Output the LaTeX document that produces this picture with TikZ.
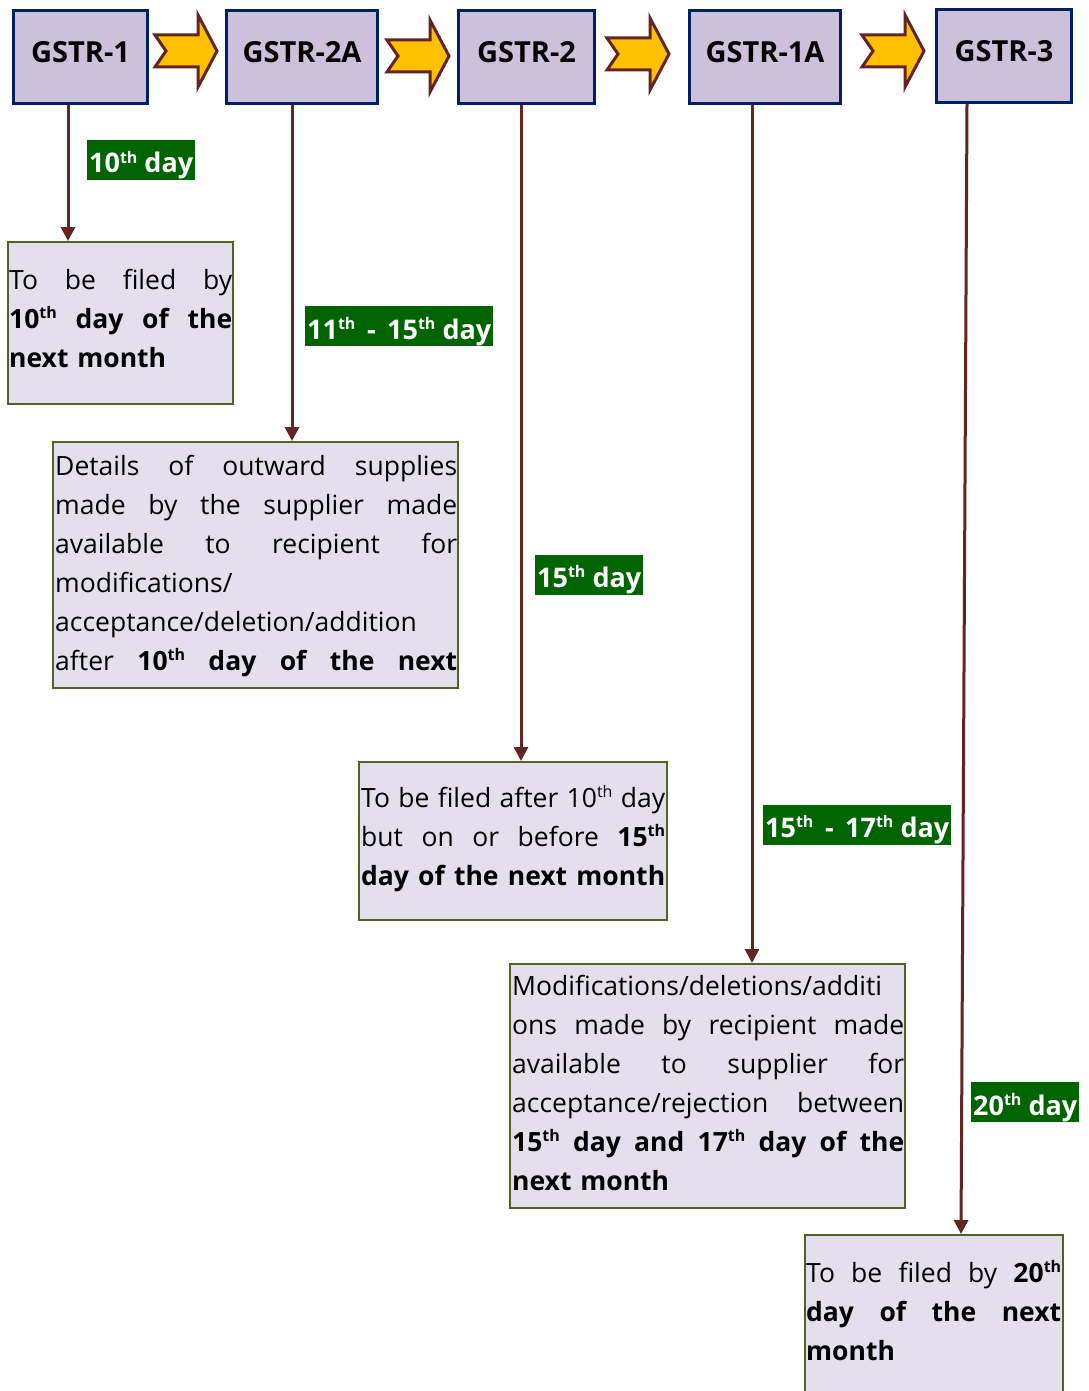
\documentclass[tikz,border=0pt]{standalone}
\usepackage{fontspec}
\setmainfont{Open Sans}
\usetikzlibrary{arrows.meta,calc}

\definecolor{hdrfill}{HTML}{CCC0DA}
\definecolor{hdrline}{HTML}{002060}
\definecolor{notefill}{HTML}{E4DFEC}
\definecolor{noteline}{HTML}{4F6228}
\definecolor{linkred}{HTML}{632523}
\definecolor{flowgold}{HTML}{FFC000}
\definecolor{daygreen}{HTML}{006400}

\newlength{\jw}
\newcommand{\supth}{\raisebox{0.37em}{\fontsize{16}{16}\selectfont th}}
\newcommand{\jl}[1]{\leavevmode\hbox to \jw{\spaceskip=0.25em plus 1fil\relax #1}}

\begin{document}
\begin{tikzpicture}[x=1pt, y=-1pt,
    form/.style={draw=hdrline, line width=3pt, fill=hdrfill, inner sep=0pt,
      text height=52.5pt, text depth=40.5pt, font=\fontsize{29}{35}\selectfont\bfseries},
    note/.style={draw=noteline, line width=2pt, fill=notefill, anchor=north west, inner sep=0pt},
    body/.style={anchor=north west, inner sep=0pt, align=left, font=\fontsize{26.5}{39}\selectfont},
    link/.style={draw=linkred, line width=3pt, -{Triangle[width=14pt,length=14pt]}},
    dayflag/.style={fill=daygreen, text=white, anchor=west, inner xsep=2pt, inner ysep=0pt,
      text height=33pt, text depth=7pt, font=\fontsize{27}{33}\selectfont\bfseries},
    flowarrow/.pic={\draw[draw=linkred, fill=flowgold, line width=3pt]
      (0,-16) -- (43,-16) -- (43,-36) -- (62,0) -- (43,36) -- (43,16) -- (0,16) -- (11,0) -- cycle;}
  ]
  \useasboundingbox (0,0) rectangle (1088,1391);
  \fill[white] (0,0) rectangle (1088,1391);

  % returns across the top
  \node[form, minimum width=134pt] (g1)  at (80.5,57) {GSTR-1};
  \node[form, minimum width=151pt] (g2a) at (302,57)  {GSTR-2A};
  \node[form, minimum width=136pt] (g2)  at (526.5,57) {GSTR-2};
  \node[form, minimum width=151pt] (g1a) at (765,57)  {GSTR-1A};
  \node[form, minimum width=135pt] (g3)  at (1004,56) {GSTR-3};
  \pic at (155,51) {flowarrow};
  \pic at (387,56) {flowarrow};
  \pic at (607,54) {flowarrow};
  \pic at (862,51) {flowarrow};

  % boxes
  \node[note, minimum width=225pt, minimum height=162pt] (b1) at (7,241) {};
  \node[note, minimum width=405pt, minimum height=246pt] (b2) at (52,441) {};
  \node[note, minimum width=308pt, minimum height=158pt] (b3) at (358,761) {};
  \node[note, minimum width=395pt, minimum height=244pt] (b4) at (509,963) {};
  \node[note, minimum width=258pt, minimum height=170pt] (b5) at (804,1234) {};

  \setlength{\jw}{223pt}
  \node[body, text width=223pt] (t1) at (9,261.7) {\noindent\strut\jl{To be filed by}\\
    \jl{\textbf{10\supth{} day of the}}\\
    \textbf{next month}};
  \setlength{\jw}{402pt}
  \node[body, text width=402pt] (t2) at (55,447.7) {\noindent\strut\jl{Details of outward supplies}\\
    \jl{made by the supplier made}\\
    \jl{available to recipient for}\\
    modifications/\\
    acceptance/deletion/addition\\
    \jl{after \textbf{10\supth{} day of the next}}};
  \setlength{\jw}{304pt}
  \node[body, text width=304pt] (t3) at (361,779.7) {\noindent\strut\jl{To be filed after 10\supth{} day}\\
    \jl{but on or before \textbf{15\supth}}\\
    \jl{\textbf{day of the next month}}};
  \setlength{\jw}{392pt}
  \node[body, text width=392pt] (t4) at (512,967.7) {\noindent\strut Modifications/deletions/additi\\
    \jl{ons made by recipient made}\\
    \jl{available to supplier for}\\
    \jl{acceptance/rejection between}\\
    \jl{\textbf{15\supth{} day and 17\supth{} day of the}}\\
    \textbf{next month}};
  \setlength{\jw}{255pt}
  \node[body, text width=255pt] (t5) at (806,1254.7) {\noindent\strut\jl{To be filed by \textbf{20\supth}}\\
    \jl{\textbf{day of the next}}\\
    \textbf{month}};

  % deadlines
  \coordinate (x1) at (68,0);
  \coordinate (x2) at (292,0);
  \coordinate (x3) at (521,0);
  \coordinate (x4) at (752,0);
  \coordinate (x5) at (967,0);
  \coordinate (x5e) at (961,0);
  \draw[link] (g1.south -| x1)  -- (b1.north -| x1);
  \draw[link] (g2a.south -| x2) -- (b2.north -| x2);
  \draw[link] (g2.south -| x3)  -- (b3.north -| x3);
  \draw[link] (g1a.south -| x4) -- (b4.north -| x4);
  \draw[link] (g3.south -| x5)  -- (b5.north -| x5e);

  \node[dayflag] (d1) at (87,160)    {10\supth{} day};
  \node[dayflag] (d2) at (305,326)   {11\supth{} \,-\, 15\supth{} day};
  \node[dayflag] (d3) at (535,574.5) {15\supth{} day};
  \node[dayflag] (d4) at (763,824.5) {15\supth{} \,-\, 17\supth{} day};
  \node[dayflag] (d5) at (971,1102)  {20\supth{} day};
\end{tikzpicture}
\end{document}
